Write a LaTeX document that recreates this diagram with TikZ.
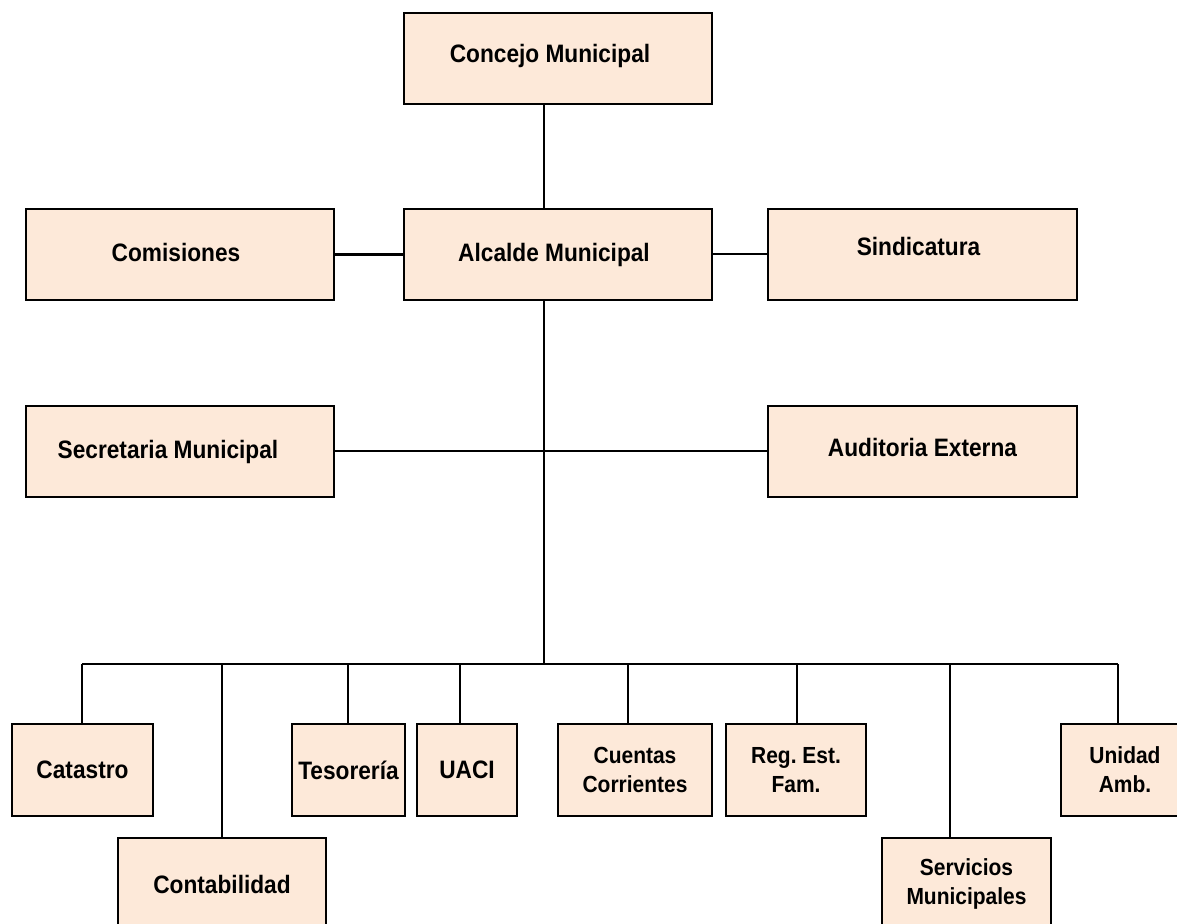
\documentclass[tikz,border=0pt]{standalone}
\usepackage{fontspec}
\setmainfont{Liberation Sans}[FakeStretch=0.9]
\frenchspacing
\definecolor{unitfill}{HTML}{FDE9D9}
% shift a label inside its box without changing the box size
\newcommand\nudged[3]{\raisebox{#2}[\height][\depth]{\hspace*{#1}#3\hspace*{-#1}}}
\begin{document}
\begin{tikzpicture}[x=0.5pt,y=-0.5pt,
  unit/.style 2 args={draw=black, fill=unitfill, line width=1pt, inner sep=0pt,
    align=center, minimum width=#1*0.5pt, minimum height=#2*0.5pt,
    font=\bfseries\fontsize{12.6}{14.5}\selectfont},
  small/.style={font=\bfseries\fontsize{11.65}{14.5}\selectfont},
  link/.style={line width=1pt},
  heavylink/.style={line width=1.5pt}]
\useasboundingbox (0,0) rectangle (1177,924);
\clip (0,0) rectangle (1177,924);

% upper levels
\node[unit={308}{91}] (concejo) at (558,58.5) {\nudged{-4pt}{1.5pt}{Concejo Municipal}};
\node[unit={308}{91}] (alcalde) at (558,254.5) {\nudged{-2pt}{0pt}{Alcalde Municipal}};
\node[unit={308}{91}] (comisiones) at (180,254.5) {\nudged{-2pt}{1.2pt}{Comisiones}};
\node[unit={309}{91}] (sindicatura) at (922.5,254.5) {\nudged{-2pt}{4.2pt}{Sindicatura}};
\node[unit={308}{91}] (secretaria) at (180,451.5) {\nudged{-6pt}{0pt}{Secretaria Municipal}};
\node[unit={309}{91}] (auditoria) at (922.5,451.5) {\nudged{0pt}{2pt}{Auditoria Externa}};

% departments
\node[unit={141}{92}] (catastro) at (82.5,770) {Catastro};
\node[unit={208}{92}] (contabilidad) at (222,884) {Contabilidad};
\node[unit={113}{92}] (tesoreria) at (348.5,770) {Tesorería};
\node[unit={100}{92}] (uaci) at (467,770) {UACI};
\node[unit={154}{92},small] (cuentas) at (635,770) {Cuentas\\Corrientes};
\node[unit={140}{92},small] (registro) at (796,770) {Reg. Est.\\Fam.};
\node[unit={169}{92},small] (servicios) at (966.5,884) {Servicios\\Municipales};
\node[unit={128}{92},small] (unidad) at (1125,770) {Unidad\\Amb.};

% trunk and bus
\coordinate (hub) at (544,664);
\draw[link] (concejo.south -| hub) -- (alcalde.north -| hub);
\draw[link] (alcalde.south -| hub) -- (hub);
\draw[heavylink] (comisiones.east) -- (alcalde.west);
\draw[link] (alcalde.east) -- (sindicatura.west);
\draw[link] (secretaria.east) -- (auditoria.west);

\coordinate (d1) at (82,664);
\coordinate (d2) at (222,664);
\coordinate (d3) at (348,664);
\coordinate (d4) at (460,664);
\coordinate (d5) at (628,664);
\coordinate (d6) at (797,664);
\coordinate (d7) at (950,664);
\coordinate (d8) at (1118,664);
\draw[link] (d1) -- (d8);
\draw[link] (d1) -- (d1 |- catastro.north);
\draw[link] (d2) -- (d2 |- contabilidad.north);
\draw[link] (d3) -- (d3 |- tesoreria.north);
\draw[link] (d4) -- (d4 |- uaci.north);
\draw[link] (d5) -- (d5 |- cuentas.north);
\draw[link] (d6) -- (d6 |- registro.north);
\draw[link] (d7) -- (d7 |- servicios.north);
\draw[link] (d8) -- (d8 |- unidad.north);
\end{tikzpicture}
\end{document}
